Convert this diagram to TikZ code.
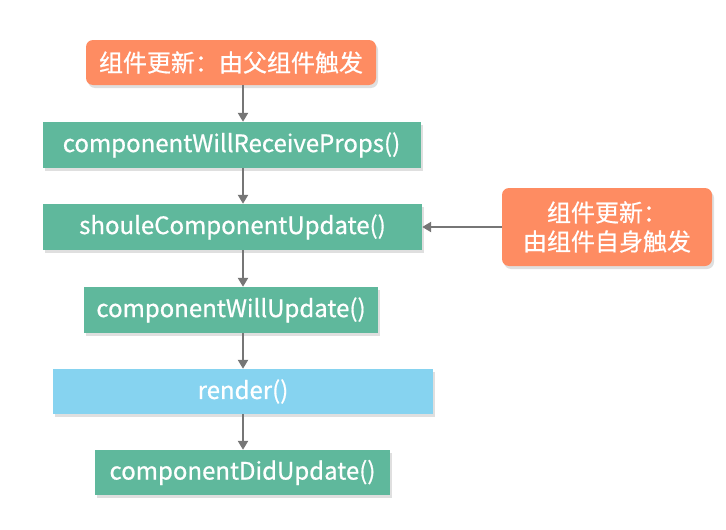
\documentclass[tikz,border=0pt]{standalone}
\usepackage{fontspec}
\setmainfont{Noto Sans CJK SC}[FakeBold=0.7]
\usetikzlibrary{arrows.meta,shadows,calc}
\definecolor{orangebox}{HTML}{FE8C62}
\definecolor{greenbox}{HTML}{5FB89C}
\definecolor{bluebox}{HTML}{86D3F0}
\definecolor{arrowgrey}{HTML}{767676}
\tikzset{
  box/.style={draw=none, text=white, inner sep=0pt, font=\fontsize{24}{29}\selectfont,
    drop shadow={opacity=0.25, shadow xshift=2pt, shadow yshift=-3pt}},
  greenstep/.style={box, fill=greenbox},
  bluestep/.style={box, fill=bluebox},
  trigger/.style={box, fill=orangebox, rounded corners=7pt, align=center},
  flow/.style={draw=arrowgrey, line width=2.6pt, -{Triangle[length=9pt,width=10pt]}}
}
\begin{document}
\begin{tikzpicture}[x=1pt,y=-1pt]
\useasboundingbox (0,0) rectangle (726,530);
% boxes (pixel coordinates, y down)
\node[trigger, minimum width=290pt, minimum height=45pt] (t1) at (231,62.5) {组件更新：由父组件触发};
\node[greenstep, minimum width=378pt, minimum height=46pt] (c1) at (231.5,145) {componentWillReceiveProps()};
\node[greenstep, minimum width=379pt, minimum height=46pt] (c2) at (232.5,227) {shouleComponentUpdate()};
\node[greenstep, minimum width=294pt, minimum height=46pt] (c3) at (231,310) {componentWillUpdate()};
\node[bluestep, minimum width=380pt, minimum height=45pt] (c4) at (243,391.5) {render()};
\node[greenstep, minimum width=295pt, minimum height=45pt] (c5) at (242.5,472.5) {componentDidUpdate()};
\node[trigger, minimum width=210pt, minimum height=78pt] (t2) at (607,227) {组件更新：\\由组件自身触发};
% arrow column
\coordinate (ax) at (243,0);
\draw[flow] (t1.south -| ax) -- (c1.north -| ax);
\draw[flow] (c1.south -| ax) -- (c2.north -| ax);
\draw[flow] (c2.south -| ax) -- (c3.north -| ax);
\draw[flow] (c3.south -| ax) -- (c4.north -| ax);
\draw[flow] (c4.south -| ax) -- (c5.north -| ax);
\draw[flow] (t2.west) -- (c2.east);
\end{tikzpicture}
\end{document}
